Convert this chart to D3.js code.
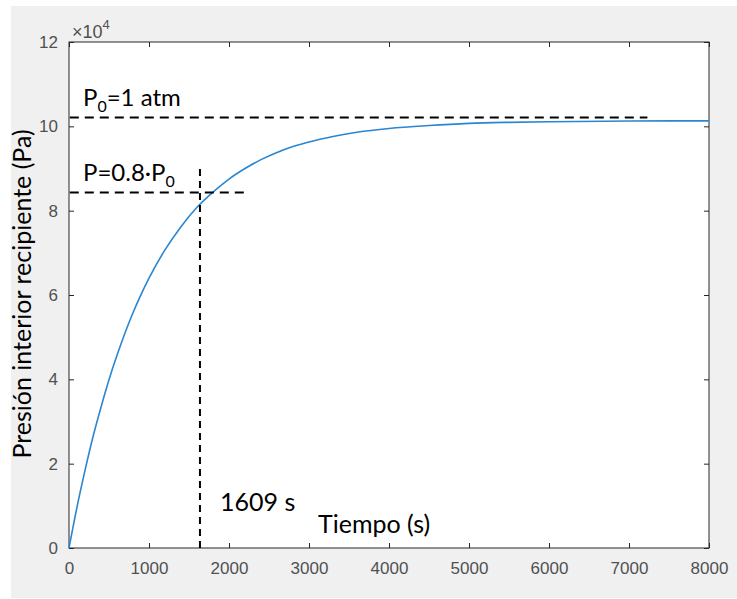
<!DOCTYPE html>
<html>
<head>
<meta charset="utf-8">
<script src="https://cdn.jsdelivr.net/npm/d3@7"></script>
<style>
  body { margin: 0; background: #fff; }
  svg { display: block; }
</style>
</head>
<body>
<div id="chart"></div>
<script>
// curve values: time (s) and pressure (Pa)
const tiempo = [0, 100, 200, 300, 400, 500, 600, 700, 800, 900, 1000, 1200, 1400, 1600,
  1800, 2000, 2200, 2400, 2600, 2800, 3000, 3300, 3600, 4000, 4500, 5000, 5500, 6000, 7000, 8000];
const presion = [0, 9700, 18400, 26400, 33400, 39900, 45700, 51000, 55800, 60100, 64000, 70700,
  76200, 80800, 84400, 87500, 90000, 92100, 93800, 95200, 96300, 97600, 98600, 99500, 100200,
  100700, 100950, 101100, 101250, 101300];

const xTicks = [0, 1000, 2000, 3000, 4000, 5000, 6000, 7000, 8000];
const yTicks = [0, 2, 4, 6, 8, 10, 12]; // x 10^4

// hand drawn guide lines
const lineP0 = {y: 102100, t0: 10, t1: 7230};
const line08 = {y: 84300, t0: 10, t1: 2225};
const lineT = {t: 1637, p0: 0, p1: 89900};

const W = 737, H = 599;
const margin = {top: 42, right: 28, bottom: 51, left: 69};
const width = 709 - margin.left,
      height = 548 - margin.top;

const svg = d3.select("#chart").append("svg")
    .attr("width", W).attr("height", H);

// figure background
svg.append("rect")
    .attr("x", 11).attr("y", 6)
    .attr("width", W - 11).attr("height", 592)
    .attr("fill", "#f0f0f0");

const g = svg.append("g")
    .attr("transform", `translate(${margin.left},${margin.top})`);

g.append("rect")
    .attr("width", width).attr("height", height)
    .attr("fill", "#fff");

const x = d3.scaleLinear().domain([0, 8000]).range([0, width]);
const y = d3.scaleLinear().domain([0, 120000]).range([height, 0]);

const axisColor = "#262626";
const tickFont = "'Liberation Sans', Arial, sans-serif";

// axes with inward ticks (MATLAB look)
g.append("g")
    .attr("transform", `translate(0,${height})`)
    .call(d3.axisBottom(x).tickValues(xTicks).tickFormat(d3.format("d"))
      .tickSizeInner(-5).tickSizeOuter(0).tickPadding(14));
g.append("g")
    .call(d3.axisLeft(y).tickValues(yTicks.map(d => d * 1e4)).tickFormat(d => d / 1e4)
      .tickSizeInner(-5).tickSizeOuter(0).tickPadding(11));
g.append("g")
    .call(d3.axisTop(x).tickValues(xTicks).tickSizeInner(-5).tickSizeOuter(0).tickFormat(""));
g.append("g")
    .attr("transform", `translate(${width},0)`)
    .call(d3.axisRight(y).tickValues(yTicks.map(d => d * 1e4)).tickSizeInner(-5).tickSizeOuter(0).tickFormat(""));

g.selectAll(".domain").remove();
g.selectAll(".tick line").attr("stroke", axisColor);
g.selectAll(".tick text")
    .attr("fill", "#505050")
    .style("font-family", tickFont)
    .style("font-size", "17px");

// box
g.append("rect")
    .attr("width", width).attr("height", height)
    .attr("fill", "none")
    .attr("stroke", axisColor)
    .attr("stroke-width", 1);

// exponent label
const expo = svg.append("text")
    .attr("x", 72).attr("y", 38)
    .attr("fill", "#505050")
    .style("font-family", tickFont)
    .style("font-size", "18px");
expo.append("tspan").text("\u00d710");
expo.append("tspan").attr("dy", -9).style("font-size", "13px").text("4");

// curve
const data = tiempo.map((t, i) => ({t: t, p: presion[i]}));
const line = d3.line()
    .x(d => x(d.t))
    .y(d => y(d.p))
    .curve(d3.curveMonotoneX);

g.append("path")
    .datum(data)
    .attr("d", line)
    .attr("fill", "none")
    .attr("stroke", "#2a86d1")
    .attr("stroke-width", 1.6);

// dashed guide lines
const dash = (x1, y1, x2, y2, da) => g.append("line")
    .attr("x1", x1).attr("y1", y1).attr("x2", x2).attr("y2", y2)
    .attr("stroke", "#000").attr("stroke-width", 2)
    .attr("stroke-dasharray", da);

dash(x(lineP0.t0), y(lineP0.y), x(lineP0.t1), y(lineP0.y), "9,6");
dash(x(line08.t0), y(line08.y), x(line08.t1), y(line08.y), "9,6");
dash(x(lineT.t), y(lineT.p1), x(lineT.t), y(lineT.p0), "7,5");

// annotations
const annFont = "Lato, 'Open Sans', sans-serif";
const ann = (tx, ty, size) => svg.append("text")
    .attr("x", tx).attr("y", ty)
    .attr("fill", "#000")
    .style("font-family", annFont)
    .style("font-size", size + "px");

const a1 = ann(83, 106, 24);
a1.append("tspan").text("P");
a1.append("tspan").attr("dy", 6).style("font-size", "16px").text("0");
a1.append("tspan").attr("dy", -6).text("=1 atm");

const a2 = ann(83, 181, 24);
a2.append("tspan").text("P=0.8\u00b7P");
a2.append("tspan").attr("dy", 6).style("font-size", "16px").text("0");

ann(220, 511, 25).text("1609 s");
ann(318, 533, 25).text("Tiempo (s)");

svg.append("text")
    .attr("transform", "translate(31,294) rotate(-90)")
    .attr("text-anchor", "middle")
    .attr("fill", "#000")
    .style("font-family", annFont)
    .style("font-size", "25px")
    .text("Presión interior recipiente (Pa)");
</script>
</body>
</html>
